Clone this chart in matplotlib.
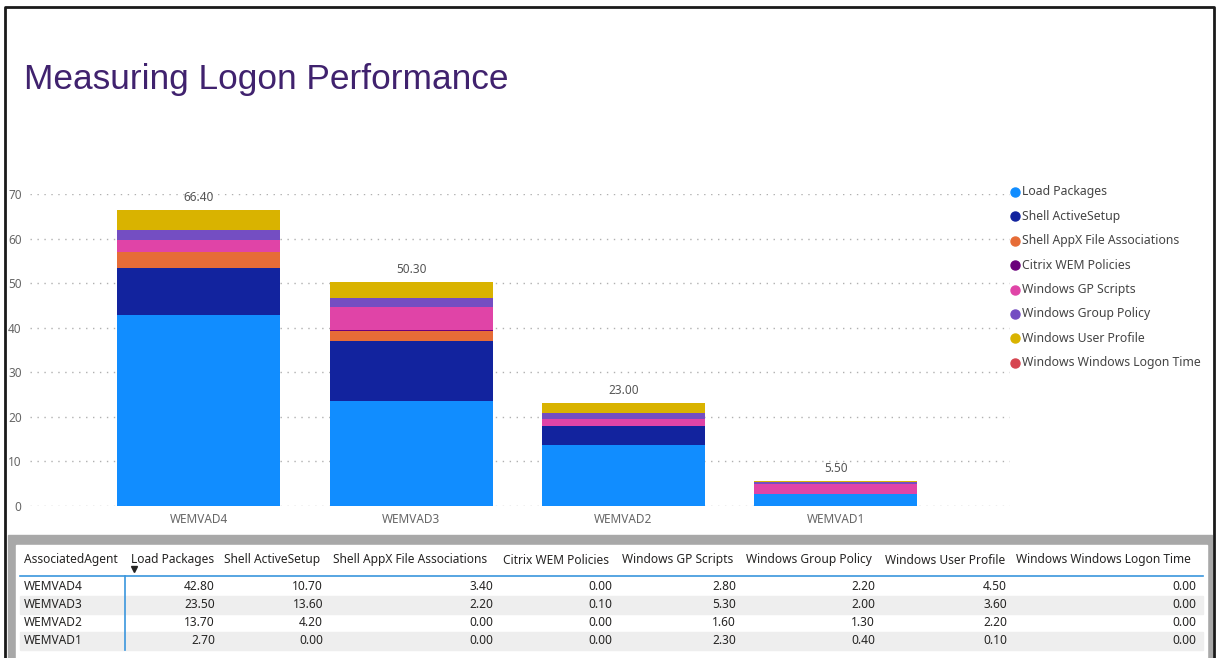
import numpy as np
import matplotlib.pyplot as plt
from matplotlib.patches import Rectangle

# 数据
agents = ['WEMVAD4', 'WEMVAD3', 'WEMVAD2', 'WEMVAD1']
load_packages = [42.80, 23.50, 13.70, 2.70]
shell_activesetup = [10.70, 13.60, 4.20, 0.00]
shell_appx = [3.40, 2.20, 0.00, 0.00]
citrix_wem = [0.00, 0.10, 0.00, 0.00]
gp_scripts = [2.80, 5.30, 1.60, 2.30]
group_policy = [2.20, 2.00, 1.30, 0.40]
user_profile = [4.50, 3.60, 2.20, 0.10]
logon_time = [0.00, 0.00, 0.00, 0.00]

series_names = ['Load Packages', 'Shell ActiveSetup', 'Shell AppX File Associations',
                'Citrix WEM Policies', 'Windows GP Scripts', 'Windows Group Policy',
                'Windows User Profile', 'Windows Windows Logon Time']
series_values = [load_packages, shell_activesetup, shell_appx, citrix_wem,
                 gp_scripts, group_policy, user_profile, logon_time]
colors = ['#118DFF', '#12239E', '#E66C37', '#6B007B',
          '#E044A7', '#744EC2', '#D9B300', '#D64550']

W, H = 1216, 658
fig = plt.figure(figsize=(W / 100, H / 100), dpi=100)
txt_font = ['Noto Sans', 'DejaVu Sans']

# 背景层（像素坐标）
bg = fig.add_axes([0, 0, 1, 1])
bg.set_xlim(0, W)
bg.set_ylim(H, 0)
bg.axis('off')
bg.add_patch(Rectangle((8, 535), 1204, 130, color='#a8a8a8', zorder=0))
bg.add_patch(Rectangle((16, 545), 1191, 120, color='white', zorder=1))
bg.plot([5, 5, 1214, 1214], [H, 7, 7, H], color='#1a1a1a', lw=2, zorder=5)

bg.text(24, 79, 'Measuring Logon Performance', fontsize=25.4, color='#40226e',
        family='Liberation Sans', va='center', ha='left')

# 堆积柱状图
ax = fig.add_axes([30 / W, 1 - 506 / H, 980 / W, 312 / H], facecolor='none')
x = np.arange(len(agents))
bottom = np.zeros(len(agents))
for name, vals, c in zip(series_names, series_values, colors):
    ax.bar(x, vals, bottom=bottom, width=0.767, color=c, label=name, zorder=3)
    bottom += np.array(vals)
for xi, tot in zip(x, bottom):
    ax.text(xi, tot + 1.4, '%.2f' % tot, ha='center', va='bottom', fontsize=8.5,
            color='#555555', family=txt_font)

ax.set_xlim(-0.795, 3.82)
ax.set_ylim(0, 70)
ax.set_yticks(range(0, 71, 10))
ax.yaxis.grid(True, linestyle=(0, (1, 4)), color='#b0b0b0', lw=1, zorder=0)
for s in ax.spines.values():
    s.set_visible(False)
ax.tick_params(length=0, labelsize=8.5, labelcolor='#666666')
ax.tick_params(axis='y', pad=6)
ax.tick_params(axis='x', pad=5)
ax.set_xticks(x)
ax.set_xticklabels(agents, family=txt_font)
for lab in ax.get_yticklabels():
    lab.set_family(txt_font)

# 图例
for i, (name, c) in enumerate(zip(series_names, colors)):
    yy = 192 + i * 24.4
    bg.plot(1015, yy, 'o', ms=6.5, color=c, zorder=6)
    bg.text(1022, yy, name, fontsize=8.8, color='#444444', va='center', ha='left', family=txt_font)

# 表格
headers = ['AssociatedAgent'] + series_names
header_x = [24, 131, 224, 333, 503, 622, 746, 885, 1016]
value_right = [215, 323, 493, 612, 736, 875, 1007, 1196]
for hx, h in zip(header_x, headers):
    bg.text(hx, 560, h, fontsize=8.6, color='#252423', va='center', ha='left', family=txt_font, zorder=4)
bg.plot(134, 569, marker='v', ms=4, color='#252423', zorder=4)
bg.plot([20, 1203], [576, 576], color='#3a96dd', lw=1.2, zorder=4)
bg.plot([125, 125], [576, 650], color='#3a96dd', lw=1.2, zorder=4)
row_y = [587, 605, 623, 641]
for r, (ag, ry) in enumerate(zip(agents, row_y)):
    if r % 2 == 1:
        bg.add_patch(Rectangle((20, ry - 9), 1183, 18, color='#eeeeee', zorder=2))
    bg.text(24, ry, ag, fontsize=8.6, color='#252423', va='center', ha='left', family=txt_font, zorder=4)
    for vr, vals in zip(value_right, series_values):
        bg.text(vr, ry, '%.2f' % vals[r], fontsize=8.6, color='#252423', va='center', ha='right',
                family=txt_font, zorder=4)

fig.savefig('out.png', dpi=100)
